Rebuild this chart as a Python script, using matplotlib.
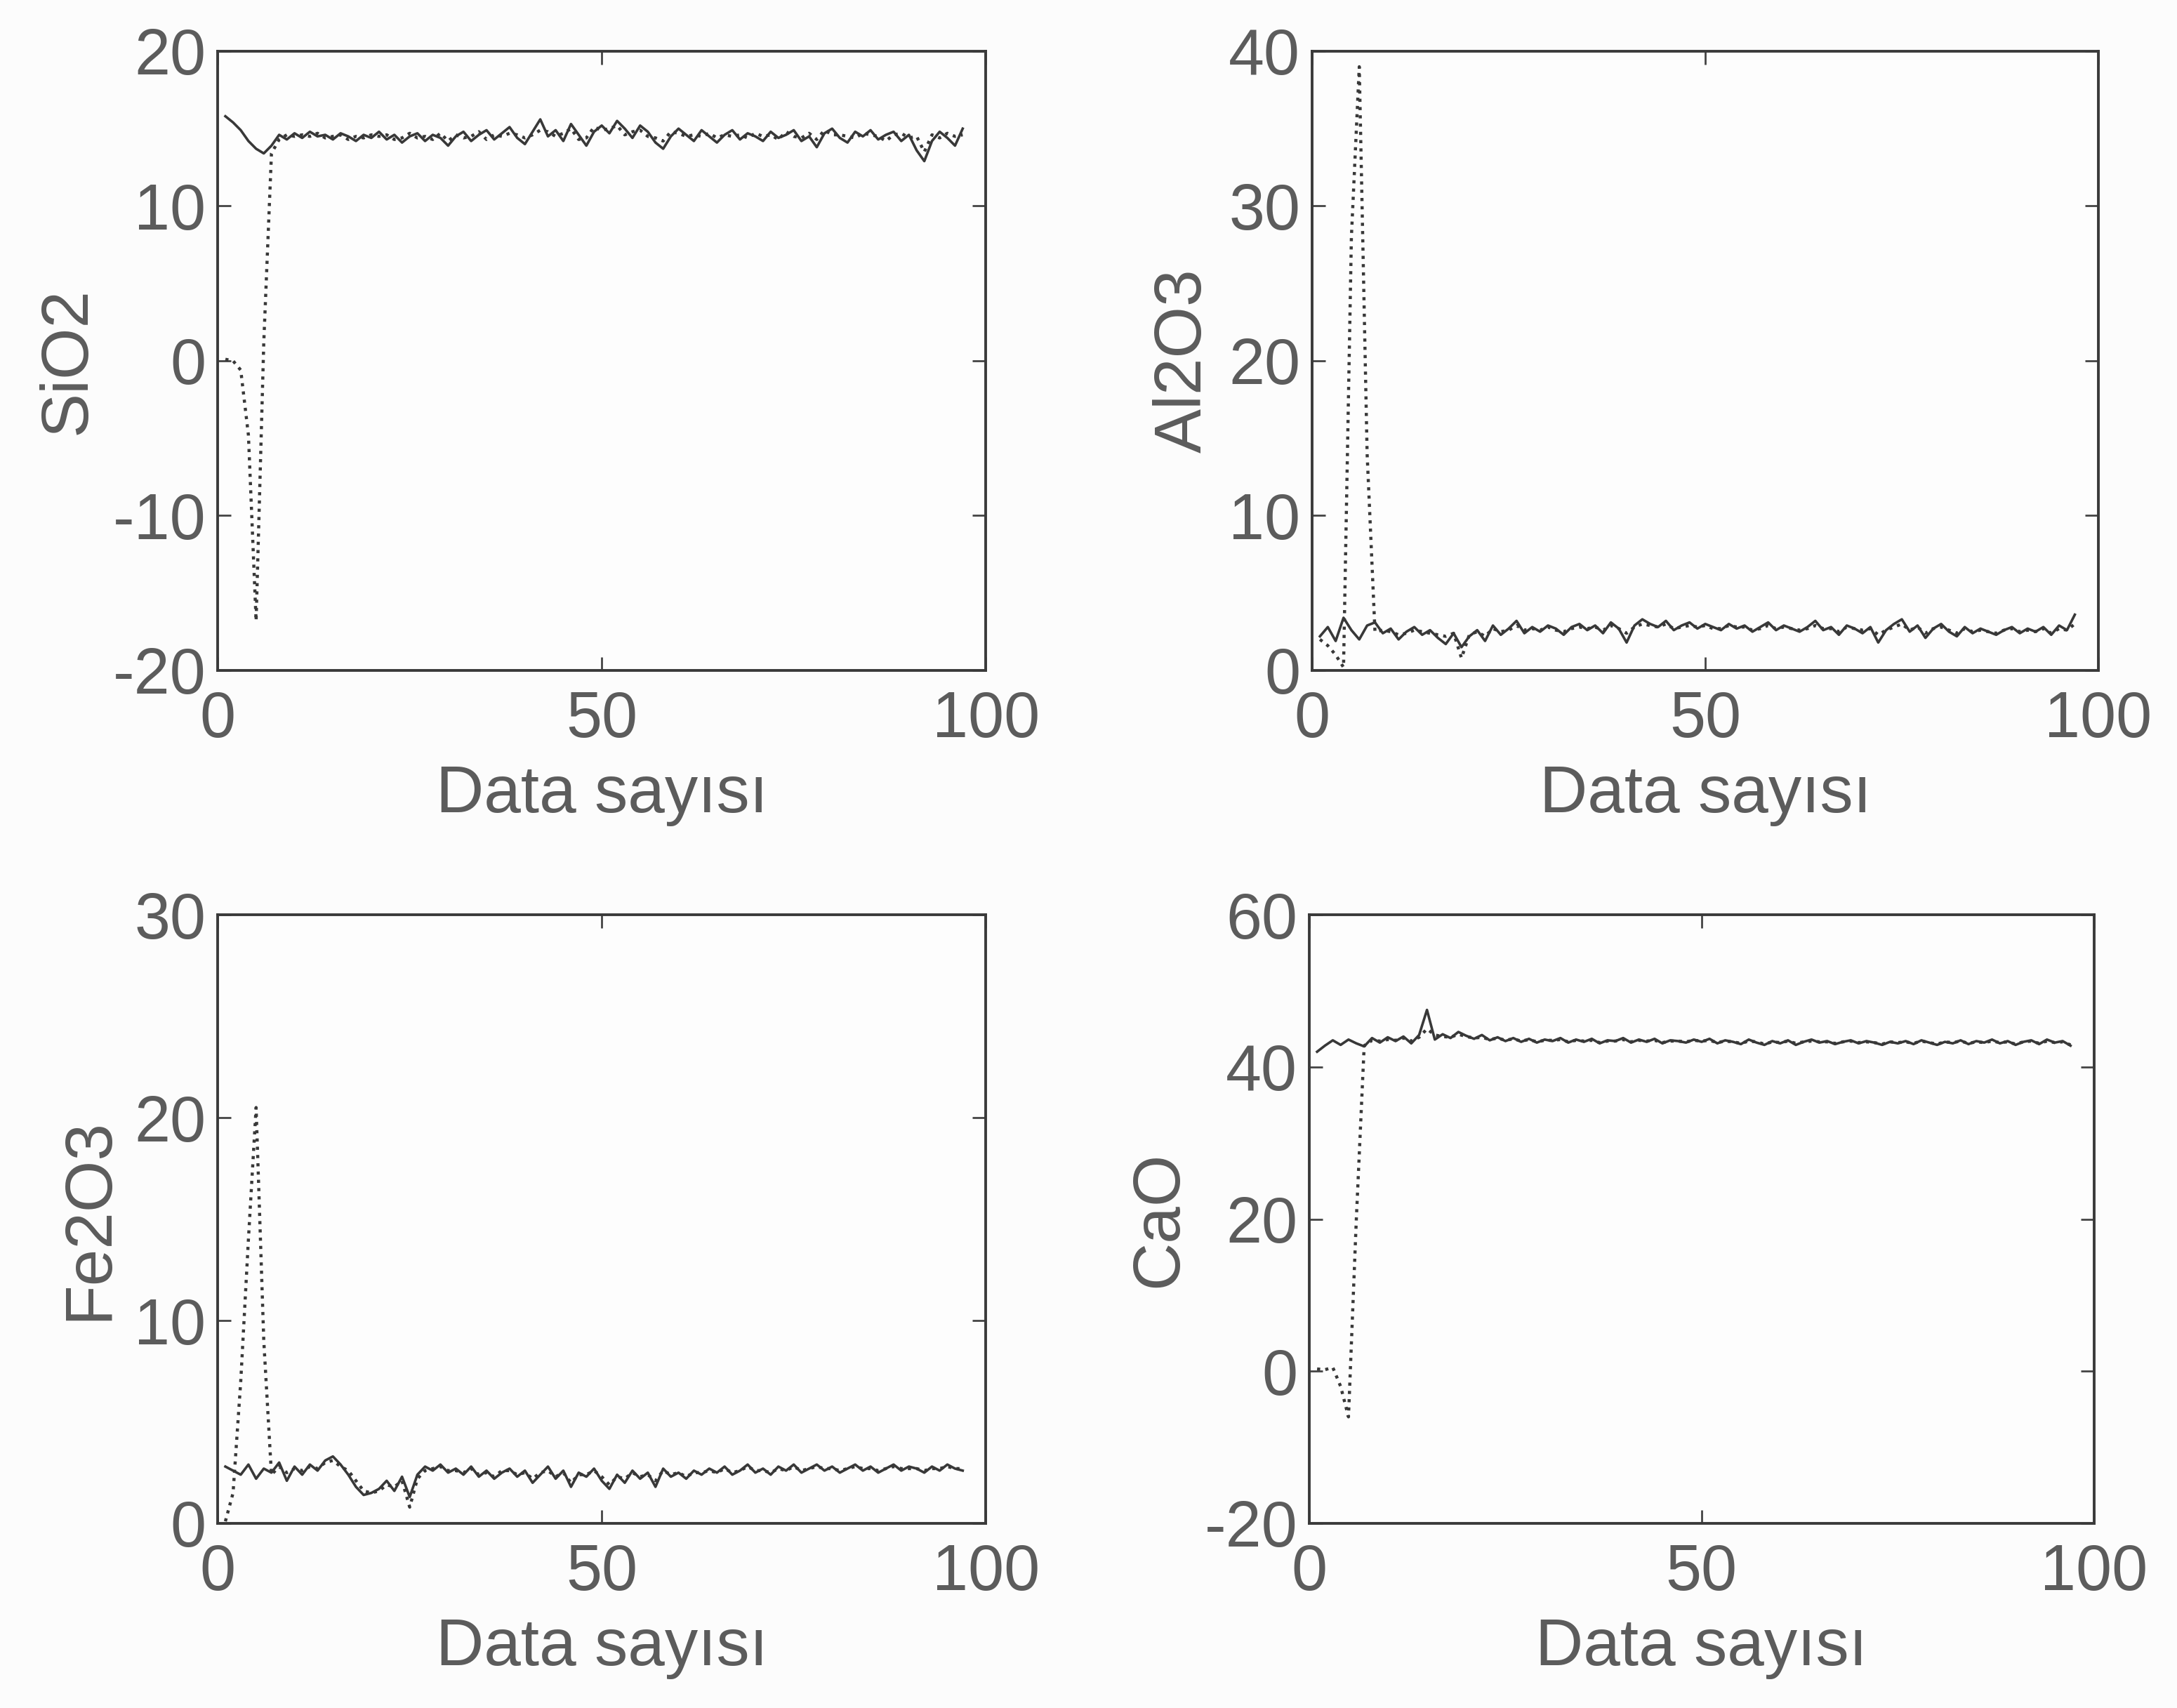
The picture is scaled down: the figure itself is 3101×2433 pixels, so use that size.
import matplotlib as mpl
mpl.use('Agg')
import matplotlib.pyplot as plt
import numpy as np

# =========================================================
#   Data, x = 1..97
# =========================================================

data_no = np.arange(1, 98)

sio2_actual = [
    15.8, 15.4, 14.9, 14.2, 13.7, 13.4, 13.9, 14.6, 14.3, 14.7,
    14.4, 14.8, 14.5, 14.6, 14.3, 14.7, 14.5, 14.2, 14.6, 14.4,
    14.8, 14.3, 14.6, 14.1, 14.5, 14.7, 14.2, 14.6, 14.4, 13.9,
    14.5, 14.8, 14.2, 14.6, 14.9, 14.3, 14.7, 15.1, 14.4, 14.0,
    14.8, 15.6, 14.5, 14.9, 14.2, 15.3, 14.6, 13.9, 14.8, 15.2,
    14.7, 15.5, 15.0, 14.4, 15.2, 14.8, 14.1, 13.7, 14.5, 15.0,
    14.6, 14.2, 14.9, 14.5, 14.1, 14.6, 14.9, 14.3, 14.7, 14.5,
    14.2, 14.8, 14.4, 14.6, 14.9, 14.2, 14.5, 13.8, 14.7, 15.0,
    14.4, 14.1, 14.8, 14.5, 14.9, 14.3, 14.6, 14.8, 14.2, 14.6,
    13.6, 12.9, 14.2, 14.8, 14.4, 13.9, 15.0]
sio2_model = [
    0.1, 0.0, -0.6, -4.8, -16.8, 1.2, 13.4, 14.3, 14.6, 14.5,
    14.6, 14.5, 14.7, 14.4, 14.5, 14.6, 14.3, 14.5, 14.4, 14.6,
    14.5, 14.6, 14.3, 14.4, 14.7, 14.4, 14.5, 14.3, 14.7, 14.2,
    14.6, 14.4, 14.5, 14.8, 14.3, 14.6, 14.5, 14.7, 14.6, 14.4,
    14.6, 14.9, 14.8, 14.5, 14.7, 15.0, 14.3, 14.4, 15.1, 14.9,
    15.0, 15.2, 14.6, 14.8, 14.9, 14.5, 14.4, 14.2, 14.8, 14.7,
    14.5, 14.6, 14.5, 14.7, 14.4, 14.6, 14.5, 14.6, 14.4, 14.7,
    14.5, 14.6, 14.3, 14.8, 14.5, 14.4, 14.7, 14.3, 14.9, 14.6,
    14.6, 14.5, 14.4, 14.7, 14.6, 14.5, 14.2, 14.6, 14.7, 14.4,
    14.5, 13.5, 14.6, 14.4, 14.7, 14.5, 14.6]

al2o3_actual = [
    2.2, 2.8, 1.9, 3.4, 2.6, 2.0, 2.9, 3.1, 2.4, 2.7,
    2.0, 2.5, 2.8, 2.3, 2.6, 2.1, 1.7, 2.4, 1.5, 2.2,
    2.6, 1.9, 2.9, 2.3, 2.7, 3.2, 2.4, 2.8, 2.5, 2.9,
    2.7, 2.3, 2.8, 3.0, 2.6, 2.9, 2.4, 3.1, 2.7, 1.8,
    2.9, 3.3, 3.0, 2.8, 3.2, 2.6, 2.9, 3.1, 2.7, 3.0,
    2.8, 2.6, 3.0, 2.7, 2.9, 2.5, 2.8, 3.1, 2.6, 2.9,
    2.7, 2.5, 2.8, 3.2, 2.6, 2.8, 2.3, 2.9, 2.7, 2.4,
    2.8, 1.8, 2.6, 3.0, 3.3, 2.5, 2.9, 2.1, 2.7, 3.0,
    2.5, 2.2, 2.8, 2.4, 2.7, 2.5, 2.3, 2.6, 2.8, 2.4,
    2.7, 2.5, 2.8, 2.3, 2.9, 2.6, 3.6]
al2o3_model = [
    2.0, 1.6, 1.0, 0.2, 28.0, 39.0, 14.0, 2.5, 2.6, 2.5,
    2.3, 2.4, 2.6, 2.5, 2.4, 2.3, 2.2, 2.4, 0.8, 2.3,
    2.5, 2.2, 2.7, 2.5, 2.6, 2.9, 2.6, 2.7, 2.6, 2.8,
    2.6, 2.5, 2.7, 2.8, 2.7, 2.8, 2.6, 2.9, 2.7, 2.4,
    2.8, 3.0, 2.9, 2.8, 3.0, 2.7, 2.8, 2.9, 2.8, 2.9,
    2.7, 2.7, 2.9, 2.8, 2.8, 2.6, 2.7, 2.9, 2.7, 2.8,
    2.7, 2.6, 2.7, 2.9, 2.7, 2.7, 2.5, 2.8, 2.7, 2.6,
    2.7, 2.3, 2.6, 2.8, 3.0, 2.6, 2.8, 2.4, 2.7, 2.8,
    2.6, 2.4, 2.7, 2.5, 2.6, 2.5, 2.4, 2.6, 2.7, 2.5,
    2.6, 2.5, 2.7, 2.4, 2.7, 2.6, 3.0]

fe2o3_actual = [
    2.8, 2.6, 2.4, 2.9, 2.2, 2.7, 2.5, 3.0, 2.1, 2.8,
    2.4, 2.9, 2.6, 3.1, 3.3, 2.9, 2.4, 1.8, 1.4, 1.5,
    1.7, 2.1, 1.6, 2.3, 1.3, 2.4, 2.8, 2.6, 2.9, 2.5,
    2.7, 2.4, 2.8, 2.3, 2.6, 2.2, 2.5, 2.7, 2.3, 2.6,
    2.0, 2.4, 2.8, 2.2, 2.6, 1.8, 2.5, 2.3, 2.7, 2.1,
    1.7, 2.4, 2.0, 2.6, 2.2, 2.5, 1.8, 2.7, 2.3, 2.5,
    2.2, 2.6, 2.4, 2.7, 2.5, 2.8, 2.4, 2.6, 2.9, 2.5,
    2.7, 2.4, 2.8, 2.6, 2.9, 2.5, 2.7, 2.9, 2.6, 2.8,
    2.5, 2.7, 2.9, 2.6, 2.8, 2.5, 2.7, 2.9, 2.6, 2.8,
    2.7, 2.5, 2.8, 2.6, 2.9, 2.7, 2.6]
fe2o3_model = [
    0.1, 1.5, 7.0, 14.0, 20.5, 9.0, 2.4, 2.8, 2.5, 2.7,
    2.6, 2.8, 2.7, 3.0, 3.1, 2.8, 2.6, 2.1, 1.6, 1.5,
    1.6, 1.9, 1.8, 2.1, 0.8, 2.2, 2.6, 2.7, 2.8, 2.6,
    2.6, 2.5, 2.7, 2.4, 2.5, 2.3, 2.6, 2.6, 2.4, 2.5,
    2.2, 2.5, 2.6, 2.3, 2.5, 2.0, 2.4, 2.4, 2.6, 2.3,
    1.9, 2.3, 2.2, 2.5, 2.3, 2.4, 2.1, 2.6, 2.4, 2.5,
    2.3, 2.5, 2.5, 2.6, 2.5, 2.7, 2.5, 2.6, 2.8, 2.6,
    2.6, 2.5, 2.7, 2.6, 2.8, 2.6, 2.7, 2.8, 2.7, 2.7,
    2.6, 2.7, 2.8, 2.7, 2.7, 2.6, 2.7, 2.8, 2.7, 2.7,
    2.7, 2.6, 2.7, 2.7, 2.8, 2.7, 2.7]

cao_actual = [
    42.0, 42.8, 43.5, 42.9, 43.6, 43.1, 42.7, 43.8, 43.2, 43.9,
    43.4, 44.0, 43.1, 44.2, 47.5, 43.6, 44.3, 43.8, 44.6, 44.1,
    43.7, 44.2, 43.5, 43.9, 43.4, 43.8, 43.3, 43.7, 43.2, 43.6,
    43.4, 43.8, 43.2, 43.6, 43.3, 43.7, 43.1, 43.5, 43.4, 43.8,
    43.2, 43.6, 43.3, 43.7, 43.1, 43.5, 43.4, 43.2, 43.6, 43.3,
    43.7, 43.1, 43.5, 43.3, 43.0, 43.6, 43.2, 42.9, 43.4, 43.1,
    43.5, 42.9, 43.3, 43.6, 43.2, 43.4, 43.0, 43.3, 43.5, 43.1,
    43.4, 43.2, 42.9, 43.3, 43.1, 43.4, 43.0, 43.5, 43.2, 42.9,
    43.3, 43.1, 43.5, 43.0, 43.4, 43.2, 43.6, 43.1, 43.4, 42.9,
    43.3, 43.5, 43.0, 43.6, 43.2, 43.4, 42.8]
cao_model = [
    0.3, 0.2, 0.5, -2.0, -6.0, 20.0, 42.8, 43.5, 43.4, 43.6,
    43.5, 43.8, 43.4, 43.9, 45.0, 44.2, 44.0, 43.9, 44.3, 44.0,
    43.8, 43.9, 43.6, 43.8, 43.5, 43.7, 43.4, 43.6, 43.3, 43.5,
    43.5, 43.6, 43.3, 43.5, 43.4, 43.5, 43.2, 43.4, 43.4, 43.6,
    43.3, 43.5, 43.4, 43.5, 43.2, 43.4, 43.4, 43.3, 43.5, 43.4,
    43.5, 43.2, 43.4, 43.3, 43.1, 43.4, 43.3, 43.0, 43.3, 43.2,
    43.4, 43.1, 43.3, 43.4, 43.3, 43.3, 43.1, 43.3, 43.4, 43.2,
    43.3, 43.2, 43.0, 43.3, 43.2, 43.3, 43.1, 43.4, 43.2, 43.0,
    43.3, 43.2, 43.4, 43.1, 43.3, 43.2, 43.4, 43.2, 43.3, 43.0,
    43.3, 43.4, 43.1, 43.4, 43.2, 43.3, 42.9]

labels = ['SiO2', 'Al2O3', 'Fe2O3', 'CaO']
y_limits = [(-20, 20), (0, 40), (0, 30), (-20, 60)]
y_ticks = [[-20, -10, 0, 10, 20], [0, 10, 20, 30, 40],
           [0, 10, 20, 30], [-20, 0, 20, 40, 60]]
x_ticks = [0, 50, 100]
x_label = 'Data sayısı'

# =========================================================
#   Plot
# =========================================================

plt.rcParams['font.family'] = ['Liberation Sans', 'DejaVu Sans']
plt.rcParams['axes.unicode_minus'] = False
text_col = '#5c5c5c'
line_col = '#383838'

fig = plt.figure(figsize=(31.01, 24.33), dpi=100)
fig.patch.set_facecolor('#fcfcfc')

positions = [
    [0.100, 0.6075, 0.3528, 0.3625],
    [0.6027, 0.6075, 0.3612, 0.3625],
    [0.100, 0.1081, 0.3528, 0.3563],
    [0.6014, 0.1081, 0.3605, 0.3563],
]

series = [
    (sio2_actual, sio2_model),
    (al2o3_actual, al2o3_model),
    (fe2o3_actual, fe2o3_model),
    (cao_actual, cao_model),
]

for pos, (actual, model), lab, ylim, yt in zip(positions, series, labels, y_limits, y_ticks):
    ax = fig.add_axes(pos)
    ax.set_facecolor('#fdfdfd')
    ax.plot(data_no, actual, linestyle='-', color=line_col, linewidth=2.6)
    ax.plot(data_no, model, linestyle=':', color=line_col, linewidth=3.2)
    ax.set_xlim(0, 100)
    ax.set_ylim(*ylim)
    ax.set_xticks(x_ticks)
    ax.set_yticks(yt)
    ax.tick_params(axis='both', direction='in', top=True, right=True, length=14,
                   width=2, labelsize=66, labelcolor=text_col, color='#444444')
    ax.tick_params(axis='x', pad=20)
    ax.tick_params(axis='y', pad=12)
    for s in ax.spines.values():
        s.set_linewidth(2.8)
        s.set_color('#3a3a3a')
    ax.set_xlabel(x_label, fontsize=68, color=text_col, labelpad=14)
    ax.set_ylabel(lab, fontsize=68, color=text_col, labelpad=14)

plt.savefig('out.png', dpi=100, facecolor=fig.get_facecolor())
